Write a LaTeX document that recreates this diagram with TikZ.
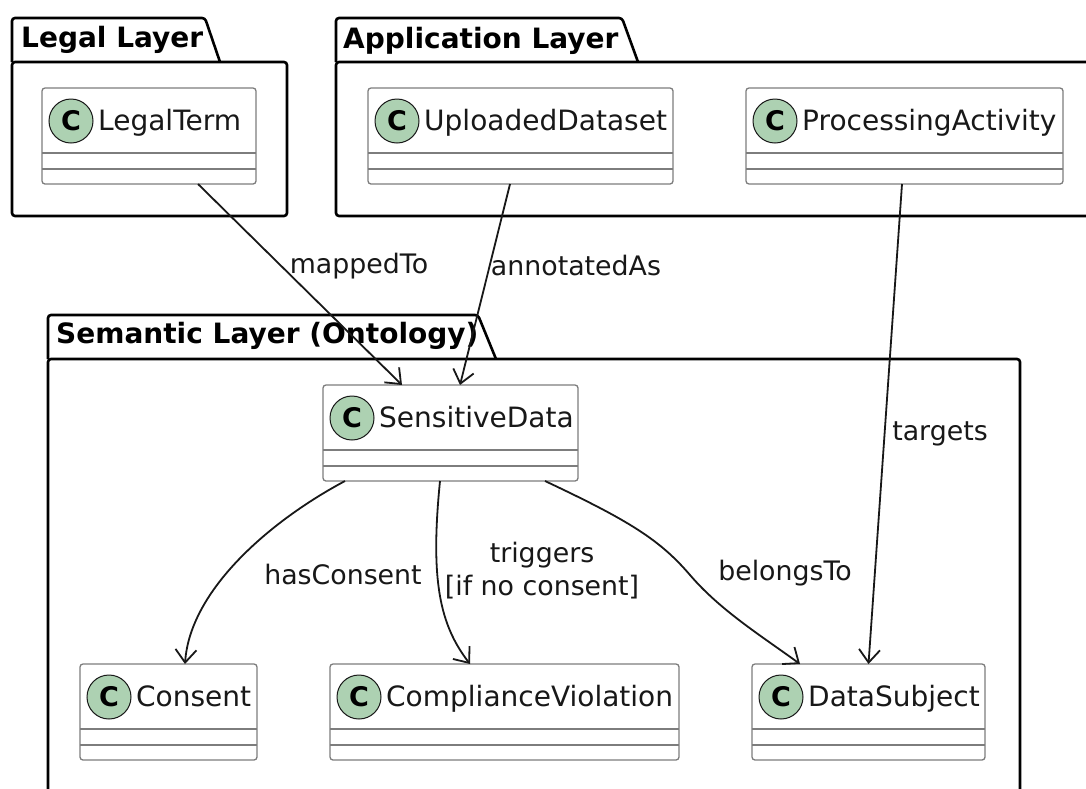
\documentclass[tikz,border=0pt]{standalone}
\usepackage{fontspec}
\setmainfont{DejaVu Sans}
\usetikzlibrary{arrows.meta,fit}
\definecolor{spot}{HTML}{ADD1B2}
\definecolor{cborder}{RGB}{125,125,125}
\definecolor{ink}{HTML}{181818}
\tikzset{
  pkg/.style={draw=black, line width=2.6pt, rounded corners=3pt},
  pkgtitle/.style={anchor=base west, font=\fontsize{28}{33}\selectfont\bfseries, inner sep=0pt, text=black},
  cls/.style={draw=cborder, line width=1.3pt, rounded corners=3pt, fill=white, inner sep=0pt, outer sep=0pt},
  sepline/.style={draw=cborder, line width=1.3pt},
  clsname/.style={anchor=base west, font=\fontsize{28}{33}\selectfont, inner sep=0pt, text=ink},
  spotc/.style={circle, draw=ink, line width=1pt, fill=spot, minimum size=44pt, inner sep=0pt, font=\fontsize{27}{30}\selectfont\bfseries, text=black},
  rel/.style={draw=ink, line width=1.8pt, -{Straight Barb[length=13pt,width=21pt,line width=1.8pt]}},
  lbl/.style={font=\fontsize{26.8}{33}\selectfont, text=ink, inner sep=0pt, align=center},
}
\newcommand{\umlclass}[5]{%
  \node[cls, fit={(#2,#3) (#4,{#3+96})}] (#1) {};
  \draw[sepline] ([yshift=-65pt]#1.north west) -- ([yshift=-65pt]#1.north east);
  \draw[sepline] ([yshift=-81pt]#1.north west) -- ([yshift=-81pt]#1.north east);
  \node[spotc] (#1-c) at ([xshift=29pt,yshift=-33pt]#1.north west) {C};
  \node[clsname] (#1-t) at ([xshift=56pt,yshift=-42pt]#1.north west) {#5};
}
\begin{document}
\begin{tikzpicture}[x=1pt,y=-1pt]
\clip (0,0) rectangle (1086,788);
\fill[white] (0,0) rectangle (1086,788);

% packages
\draw[pkg] (12,62) |- (205,18) -- (220,62);
\draw[pkg] (12,62) rectangle (287,216);
\node[pkgtitle] (legalT) at (21,47) {Legal Layer};

\draw[pkg] (336,62) |- (622,18) -- (638,62);
\draw[pkg] (336,62) rectangle (1110,216);
\node[pkgtitle] (appT) at (343,48) {Application Layer};

\draw[pkg] (48,359) |- (478,315) -- (496,359);
\draw[pkg] (48,359) rectangle (1020,820);
\node[pkgtitle] (semT) at (56,343) {Semantic Layer (Ontology)};

% classes
\umlclass{lt}{42}{88}{256}{LegalTerm}
\umlclass{ud}{368}{88}{673}{UploadedDataset}
\umlclass{pa}{746}{88}{1063}{ProcessingActivity}
\umlclass{sd}{323}{385}{578}{SensitiveData}
\umlclass{co}{80}{664}{257}{Consent}
\umlclass{cv}{330}{664}{679}{ComplianceViolation}
\umlclass{ds}{752}{664}{985}{DataSubject}

% relations
\draw[rel] ([xshift=49pt]lt.south) -- ([xshift=-48.5pt]sd.north);
\draw[rel] ([xshift=-10.5pt]ud.south) -- ([xshift=9.5pt]sd.north);
\draw[rel] ([xshift=-2.5pt]pa.south) -- (ds.north);
\draw[rel] ([xshift=-105.5pt]sd.south) .. controls +(-75,40) and +(5,-74) .. ([xshift=16.5pt]co.north);
\draw[rel] ([xshift=-10.5pt]sd.south) .. controls +(-10,100) and +(-30,-39) .. ([xshift=-34.5pt]cv.north);
\coordinate (bmid) at (690,575);
\draw[rel] ([xshift=94.5pt]sd.south) .. controls +(85,40) and +(-30,-35) .. (bmid)
  .. controls +(30,35) and +(-40,-29) .. ([xshift=-68.5pt]ds.north);

% labels
\node[lbl] (l1) at (359,266) {mappedTo};
\node[lbl] (l2) at (576,266) {annotatedAs};
\node[lbl] (l3) at (940,434) {targets};
\node[lbl] (l4) at (343,574) {hasConsent};
\node[lbl] (l5) at (542,571) {triggers\\{}[if no consent]};
\node[lbl] (l6) at (785,573) {belongsTo};
\end{tikzpicture}
\end{document}
